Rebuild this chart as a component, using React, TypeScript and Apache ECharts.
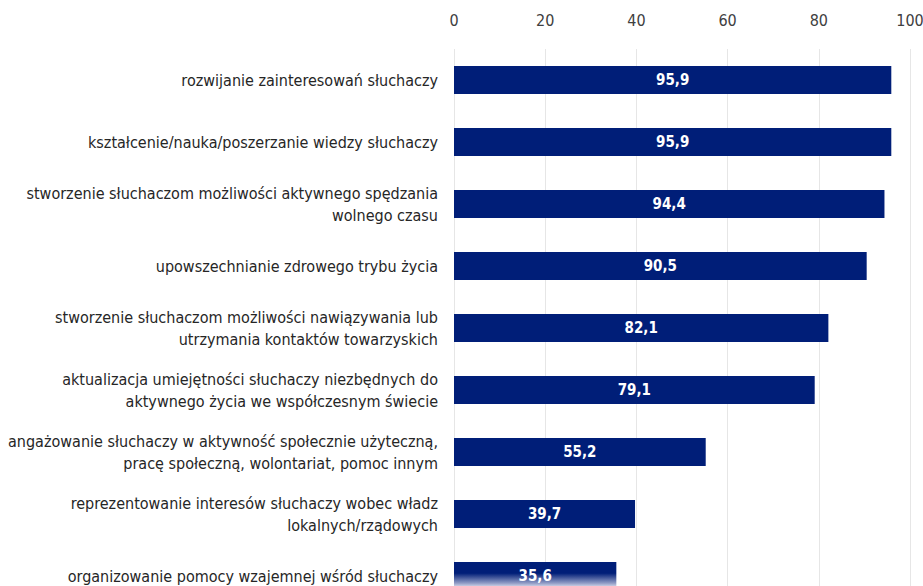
import React, { useEffect, useRef } from "react";
import * as echarts from "echarts";

const categories: string[] = [
  "rozwijanie zainteresowań słuchaczy",
  "kształcenie/nauka/poszerzanie wiedzy słuchaczy",
  "stworzenie słuchaczom możliwości aktywnego spędzania\nwolnego czasu",
  "upowszechnianie zdrowego trybu życia",
  "stworzenie słuchaczom możliwości nawiązywania lub\nutrzymania kontaktów towarzyskich",
  "aktualizacja umiejętności słuchaczy niezbędnych do\naktywnego życia we współczesnym świecie",
  "angażowanie słuchaczy w aktywność społecznie użyteczną,\npracę społeczną, wolontariat, pomoc innym",
  "reprezentowanie interesów słuchaczy wobec władz\nlokalnych/rządowych",
  "organizowanie pomocy wzajemnej wśród słuchaczy",
];

const values: number[] = [95.9, 95.9, 94.4, 90.5, 82.1, 79.1, 55.2, 39.7, 35.6];

const xTicks: number[] = [0, 20, 40, 60, 80, 100];

const FONT = "'DejaVu Sans Condensed', 'Liberation Sans Narrow', 'Roboto', sans-serif";
const NAVY = "#001e78";

export default function App() {
  const ref = useRef<HTMLDivElement>(null);
  useEffect(() => {
    document.body.style.margin = "0";
    document.body.style.overflow = "hidden";
    if (!ref.current) return;
    const chart = echarts.init(ref.current, undefined, { renderer: "svg" });
    chart.setOption({
      animation: false,
      backgroundColor: "#ffffff",
      grid: {
        left: 454,
        right: 13,
        top: 49,
        bottom: -21,
        containLabel: false,
        outerBoundsMode: "none",
      },
      xAxis: {
        type: "value",
        position: "top",
        min: xTicks[0],
        max: xTicks[xTicks.length - 1],
        interval: 20,
        axisLine: { show: false },
        axisTick: { show: false },
        axisLabel: {
          color: "#404040",
          fontSize: 16,
          fontFamily: FONT,
          margin: 21,
        },
        splitLine: { show: true, lineStyle: { color: "#e6e6e6", width: 1 } },
      },
      yAxis: {
        type: "category",
        inverse: true,
        data: categories,
        axisLine: { show: false },
        axisTick: { show: false },
        axisLabel: {
          color: "#262626",
          fontSize: 16,
          lineHeight: 22,
          fontFamily: FONT,
          margin: 16,
          align: "right",
        },
      },
      series: [
        {
          type: "bar",
          data: values.map((v, i) =>
            i === values.length - 1
              ? {
                  value: v,
                  itemStyle: {
                    color: new echarts.graphic.LinearGradient(0, 0, 0, 1, [
                      { offset: 0, color: NAVY },
                      { offset: 0.4, color: NAVY },
                      { offset: 0.75, color: "#8f9ac4" },
                      { offset: 0.86, color: "#c8cde3" },
                      { offset: 1, color: "#e6e9f3" },
                    ]),
                  },
                }
              : v
          ),
          barWidth: 28,
          itemStyle: { color: NAVY },
          label: {
            show: true,
            position: "inside",
            color: "#ffffff",
            fontSize: 15,
            fontWeight: "bold",
            fontFamily: FONT,
            formatter: (p: any) => String(p.value).replace(".", ","),
          },
        },
      ],
    });
    return () => chart.dispose();
  }, []);
  return <div ref={ref} style={{ width: 923, height: 586 }} />;
}
